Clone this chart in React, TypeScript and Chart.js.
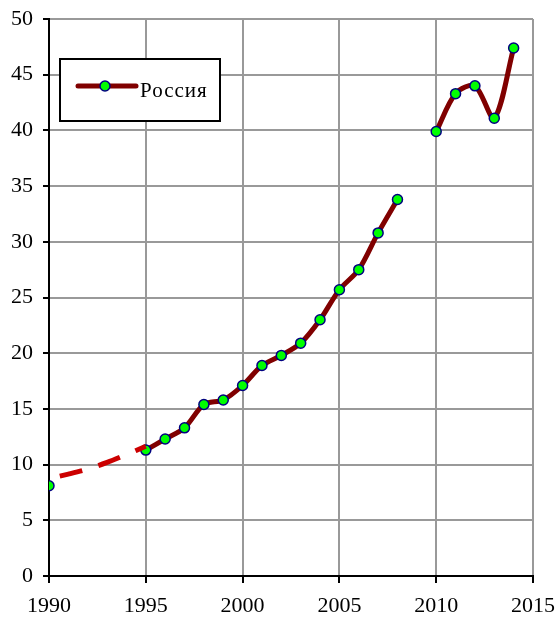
import React, { useEffect, useRef } from "react";
import { Chart, registerables } from "chart.js";

Chart.register(...registerables);

const years = [1990, 1991, 1992, 1993, 1994, 1995, 1996, 1997, 1998, 1999, 2000, 2001, 2002, 2003, 2004, 2005, 2006, 2007, 2008, 2009, 2010, 2011, 2012, 2013, 2014];
const russia = [8.1, null, null, null, null, 11.3, 12.3, 13.3, 15.4, 15.8, 17.1, 18.9, 19.8, 20.9, 23.0, 25.7, 27.5, 30.8, 33.8, null, 39.9, 43.3, 44.0, 41.1, 47.4];
const trendYears = [1990, 1991, 1992, 1993, 1994, 1995];
const trendValues = [8.75, 9.15, 9.6, 10.2, 10.9, 11.65];
const xTicks = [1990, 1995, 2000, 2005, 2010, 2015];
const yTicks = [0, 5, 10, 15, 20, 25, 30, 35, 40, 45, 50];
const seriesLabel = "Россия";

const FONT = '"Liberation Serif", "Times New Roman", serif';

const legendPlugin = {
  id: "boxLegend",
  afterDraw(chart: any) {
    const { ctx, chartArea } = chart;
    const x0 = chartArea.left + 11;
    const y0 = chartArea.top + 40;
    const w = 160;
    const h = 62;
    ctx.save();
    ctx.fillStyle = "#ffffff";
    ctx.fillRect(x0, y0, w, h);
    ctx.strokeStyle = "#000000";
    ctx.lineWidth = 2;
    ctx.strokeRect(x0, y0, w, h);
    ctx.strokeStyle = "#800000";
    ctx.lineWidth = 5;
    ctx.lineCap = "round";
    ctx.beginPath();
    ctx.moveTo(x0 + 18, y0 + 27);
    ctx.lineTo(x0 + 76, y0 + 27);
    ctx.stroke();
    ctx.beginPath();
    ctx.arc(x0 + 45, y0 + 27, 5, 0, Math.PI * 2);
    ctx.fillStyle = "#00ff00";
    ctx.fill();
    ctx.strokeStyle = "#000080";
    ctx.lineWidth = 1.5;
    ctx.stroke();
    ctx.font = "21px " + FONT;
    try { (ctx as any).letterSpacing = "1px"; } catch (e) {}
    ctx.fillStyle = "#000000";
    ctx.textBaseline = "alphabetic";
    ctx.textAlign = "left";
    ctx.fillText(seriesLabel, x0 + 80, y0 + 38);
    ctx.restore();
  },
};

export default function App() {
  const ref = useRef<HTMLCanvasElement | null>(null);
  useEffect(() => {
    document.body.style.margin = "0";
    const canvas = ref.current;
    if (!canvas) return;
    let chart: any = null;
    let cancelled = false;
    const build = () => {
      if (cancelled) return;
      chart = new Chart(canvas, {
        type: "line",
        data: {
          datasets: [
            {
              label: "trend",
              data: trendYears.map((x, i) => ({ x, y: trendValues[i] })),
              borderColor: "#cc0000",
              borderWidth: 5,
              borderDash: [23, 17],
              borderDashOffset: 29,
              pointRadius: 0,
              tension: 0.3,
              fill: false,
            },
            {
              label: seriesLabel,
              data: years.map((x, i) => ({ x, y: russia[i] })),
              borderColor: "#800000",
              borderWidth: 5,
              pointRadius: 5,
              pointBackgroundColor: "#00ff00",
              pointBorderColor: "#000080",
              pointBorderWidth: 1.5,
              tension: 0.3,
              spanGaps: false,
              fill: false,
            },
          ],
        } as any,
        options: {
          animation: false,
          responsive: false,
          devicePixelRatio: 1,
          layout: { padding: { top: 19, right: 22, left: 0, bottom: 0 } },
          plugins: { legend: { display: false }, tooltip: { enabled: false } },
          events: [],
          scales: {
            x: {
              type: "linear",
              min: 1990,
              max: 2015,
              afterBuildTicks: (s: any) => {
                s.ticks = xTicks.map((v) => ({ value: v }));
              },
              afterFit: (s: any) => {
                s.height = 43;
                s.paddingRight = 0;
                s.paddingLeft = 0;
              },
              ticks: {
                font: { family: FONT, size: 22 },
                color: "#000",
                padding: 10,
                maxRotation: 0,
                autoSkip: false,
                callback: (v: any) => String(v),
              },
              grid: { color: "#999999", lineWidth: 2, tickColor: "#000000", tickLength: 7, tickWidth: 2 },
              border: { color: "#000000", width: 2 },
            },
            y: {
              type: "linear",
              min: 0,
              max: 50,
              afterBuildTicks: (s: any) => {
                s.ticks = yTicks.map((v) => ({ value: v }));
              },
              afterFit: (s: any) => {
                s.width = 49;
                s.paddingTop = 0;
                s.paddingBottom = 0;
              },
              ticks: {
                font: { family: FONT, size: 22 },
                color: "#000",
                padding: 10,
                callback: (v: any) => String(v),
              },
              grid: { color: "#999999", lineWidth: 2, tickColor: "#000000", tickLength: 6, tickWidth: 2 },
              border: { color: "#000000", width: 2 },
            },
          },
        } as any,
        plugins: [legendPlugin],
      });
    };
    const fonts: any = (document as any).fonts;
    if (fonts && fonts.load) {
      Promise.all([
        fonts.load('22px "Liberation Serif"'),
        fonts.load('21px "Liberation Serif"', "Россия"),
      ]).then(build, build);
    } else {
      build();
    }
    return () => {
      cancelled = true;
      if (chart) chart.destroy();
    };
  }, []);
  return <canvas ref={ref} width={555} height={619} style={{ display: "block" }} />;
}
